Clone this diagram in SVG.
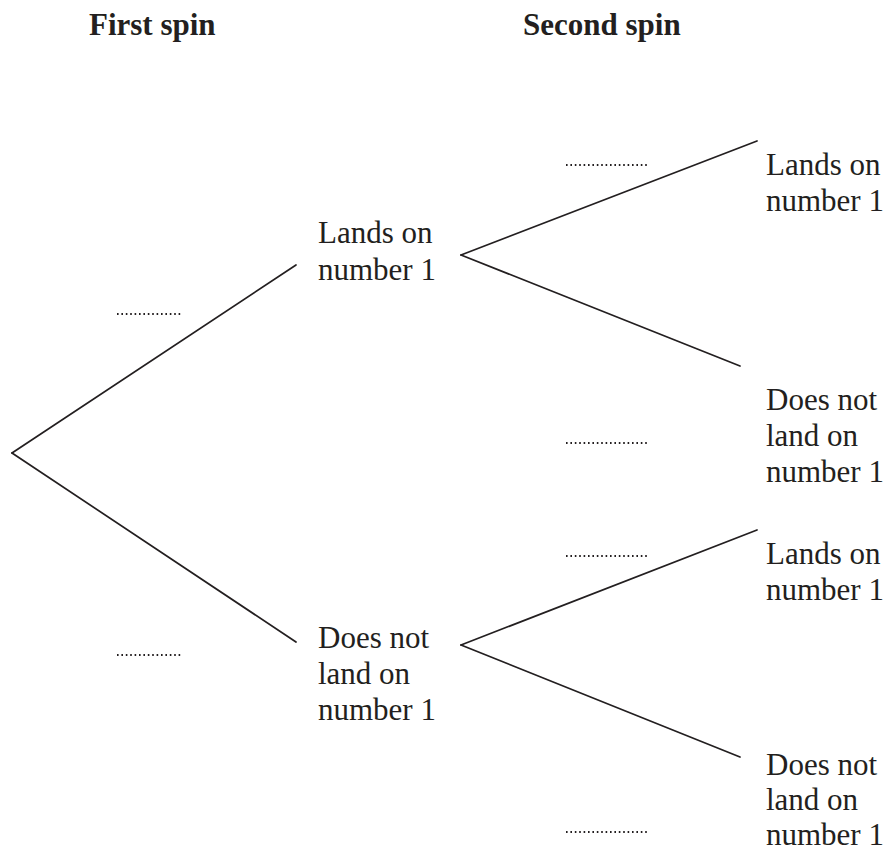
<svg xmlns="http://www.w3.org/2000/svg" width="888" height="853" viewBox="0 0 888 853">
  <style>
    .hdr { font-family: "Liberation Serif", "DejaVu Serif", serif; font-weight: bold; font-size: 31px; fill: #231f20; }
    .lbl { font-family: "Liberation Serif", "DejaVu Serif", serif; font-size: 31px; fill: #231f20; }
    .edge { stroke: #231f20; stroke-width: 1.7; fill: none; stroke-linecap: round; }
    .dots { stroke: #231f20; stroke-width: 2.2; stroke-dasharray: 1.6 2.8; fill: none; }
  </style>

  <!-- column headings -->
  <text class="hdr" x="89" y="35">First spin</text>
  <text class="hdr" x="523" y="35">Second spin</text>

  <!-- branches -->
  <g id="connectors">
    <line class="edge" x1="12" y1="453" x2="296" y2="265"/>
    <line class="edge" x1="12" y1="453" x2="296" y2="642"/>
    <line class="edge" x1="461" y1="255" x2="757" y2="141"/>
    <line class="edge" x1="461" y1="255" x2="740" y2="366"/>
    <line class="edge" x1="461" y1="645" x2="757" y2="530"/>
    <line class="edge" x1="461" y1="645" x2="740" y2="757"/>
  </g>

  <!-- probability blanks -->
  <g id="blanks">
    <line class="dots" x1="117" y1="314" x2="183" y2="314"/>
    <line class="dots" x1="117" y1="655" x2="183" y2="655"/>
    <line class="dots" x1="566" y1="165" x2="649" y2="165"/>
    <line class="dots" x1="566" y1="443" x2="649" y2="443"/>
    <line class="dots" x1="566" y1="556" x2="649" y2="556"/>
    <line class="dots" x1="566" y1="832" x2="649" y2="832"/>
  </g>

  <!-- first spin outcomes -->
  <g id="first-lands">
    <text class="lbl" x="318" y="243">Lands on</text>
    <text class="lbl" x="318" y="280">number 1</text>
  </g>
  <g id="first-not">
    <text class="lbl" x="318" y="648">Does not</text>
    <text class="lbl" x="318" y="684">land on</text>
    <text class="lbl" x="318" y="720">number 1</text>
  </g>

  <!-- second spin outcomes -->
  <g id="second-lands-a">
    <text class="lbl" x="766" y="175">Lands on</text>
    <text class="lbl" x="766" y="211">number 1</text>
  </g>
  <g id="second-not-a">
    <text class="lbl" x="766" y="410">Does not</text>
    <text class="lbl" x="766" y="446">land on</text>
    <text class="lbl" x="766" y="482">number 1</text>
  </g>
  <g id="second-lands-b">
    <text class="lbl" x="766" y="564">Lands on</text>
    <text class="lbl" x="766" y="600">number 1</text>
  </g>
  <g id="second-not-b">
    <text class="lbl" x="766" y="775">Does not</text>
    <text class="lbl" x="766" y="810">land on</text>
    <text class="lbl" x="766" y="845">number 1</text>
  </g>
</svg>
